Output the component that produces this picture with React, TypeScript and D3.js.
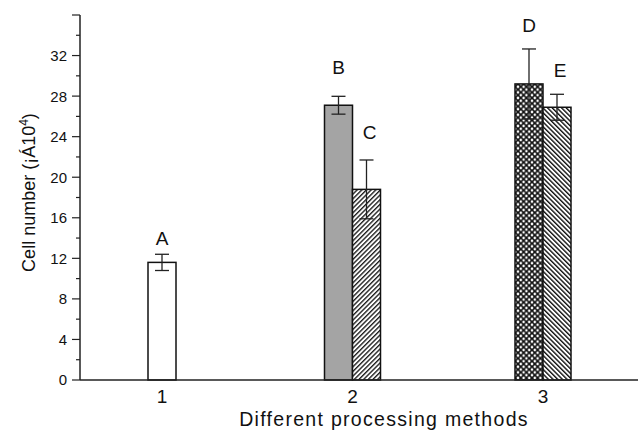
import React from "react";
import * as d3 from "d3";

// ---- data ----
const categories = [1, 2, 3];
const categoryLabels = ["1", "2", "3"];
const barLetters = ["A", "B", "C", "D", "E"];
const barGroup = [1, 2, 2, 3, 3];
const barSlot = [0, -1, 1, -1, 1]; // side of the group centre the bar sits on
const barValues = [11.6, 27.1, 18.8, 29.2, 26.9];
const barErrors = [0.8, 0.88, 2.9, 3.45, 1.28];
const letterValues = [14.0, 30.9, 24.4, 35.0, 30.6];
const yMajorTicks = [0, 4, 8, 12, 16, 20, 24, 28, 32, 36];
const yTickLabels = ["0", "4", "8", "12", "16", "20", "24", "28", "32", ""];
const yMinorTicks = [2, 6, 10, 14, 18, 22, 26, 30, 34];

// ---- styles ----
const barFill: Record<string, string> = {
  A: "#ffffff",
  B: "#a4a4a4",
  C: "url(#hatchUp)",
  D: "url(#dots)",
  E: "url(#hatchDown)",
};

const W = 642;
const H = 430;
const left = 80;
const right = 638;
const top = 15;
const bottom = 380;
const barW = 28;
const font = "'Liberation Sans', Arial, Helvetica, sans-serif";

export default function App() {
  const y = d3.scaleLinear().domain([0, 36]).range([bottom, top]);
  const x = d3.scaleLinear().domain([1, 3]).range([162, 543]);

  const barLeft = (i: number) => {
    const c = x(barGroup[i]);
    const s = barSlot[i];
    return s === 0 ? c - barW / 2 : s < 0 ? c - barW : c;
  };

  return (
    <svg
      width={W}
      height={H}
      style={{ position: "absolute", left: 0, top: 0, background: "#fff" }}
      fontFamily={font}
    >
      <defs>
        <pattern id="hatchUp" patternUnits="userSpaceOnUse" width="3.3" height="3.3" patternTransform="rotate(45)">
          <rect width="3.3" height="3.3" fill="#fff" />
          <line x1="0.7" y1="0" x2="0.7" y2="3.3" stroke="#111" strokeWidth="1.3" />
        </pattern>
        <pattern id="hatchDown" patternUnits="userSpaceOnUse" width="3.3" height="3.3" patternTransform="rotate(-45)">
          <rect width="3.3" height="3.3" fill="#fff" />
          <line x1="0.7" y1="0" x2="0.7" y2="3.3" stroke="#111" strokeWidth="1.4" />
        </pattern>
        <pattern id="dots" patternUnits="userSpaceOnUse" width="5.6" height="5.6">
          <rect width="5.6" height="5.6" fill="#111" />
          <circle cx="0" cy="0" r="1.3" fill="#fff" />
          <circle cx="5.6" cy="0" r="1.3" fill="#fff" />
          <circle cx="0" cy="5.6" r="1.3" fill="#fff" />
          <circle cx="5.6" cy="5.6" r="1.3" fill="#fff" />
          <circle cx="2.8" cy="2.8" r="1.3" fill="#fff" />
        </pattern>
      </defs>

      {/* bars */}
      {barValues.map((v, i) => (
        <rect
          key={"b" + i}
          x={barLeft(i)}
          y={y(v)}
          width={barW}
          height={y(0) - y(v)}
          fill={barFill[barLetters[i]]}
          stroke="#111"
          strokeWidth={1.5}
        />
      ))}

      {/* error bars */}
      {barValues.map((v, i) => {
        const cx = barLeft(i) + barW / 2;
        const t = y(v + barErrors[i]);
        const b = y(v - barErrors[i]);
        return (
          <g key={"e" + i} stroke="#222" strokeWidth={1.3}>
            <line x1={cx} x2={cx} y1={t} y2={b} />
            <line x1={cx - 7} x2={cx + 7} y1={t} y2={t} />
            <line x1={cx - 7} x2={cx + 7} y1={b} y2={b} />
          </g>
        );
      })}

      {/* letters */}
      {barLetters.map((l, i) => (
        <text
          key={"l" + i}
          x={barLeft(i) + barW / 2 + (barSlot[i] > 0 ? 3 : 0)}
          y={y(letterValues[i])}
          dy="0.36em"
          textAnchor="middle"
          fontSize={19}
          fill="#111"
        >
          {l}
        </text>
      ))}

      {/* axes */}
      <line x1={left} x2={left} y1={top} y2={bottom} stroke="#222" strokeWidth={1.5} />
      <line x1={left} x2={right} y1={bottom} y2={bottom} stroke="#222" strokeWidth={1.5} />
      {yMajorTicks.map((t, i) => (
        <g key={"yt" + t}>
          <line x1={left - 8} x2={left} y1={y(t)} y2={y(t)} stroke="#222" strokeWidth={1.2} />
          <text x={67} y={y(t)} dy="0.36em" textAnchor="end" fontSize={15} fill="#111">
            {yTickLabels[i]}
          </text>
        </g>
      ))}
      {yMinorTicks.map((t) => (
        <line key={"ym" + t} x1={left - 4} x2={left} y1={y(t)} y2={y(t)} stroke="#222" strokeWidth={1.2} />
      ))}

      {categories.map((c, i) => (
        <text key={"xt" + c} x={x(c)} y={403} textAnchor="middle" fontSize={19} fill="#111">
          {categoryLabels[i]}
        </text>
      ))}

      <text x={384} y={426} textAnchor="middle" fontSize={19.5} letterSpacing={1.3} fill="#111">
        Different processing methods
      </text>

      <text
        transform={`translate(34.5, ${(top + bottom) / 2 - 5}) rotate(-90)`}
        textAnchor="middle"
        fontSize={18}
        fill="#111"
      >
        Cell number (¡Á10
        <tspan dy={-7} fontSize={12}>4</tspan>
        <tspan dy={7}>)</tspan>
      </text>
    </svg>
  );
}
